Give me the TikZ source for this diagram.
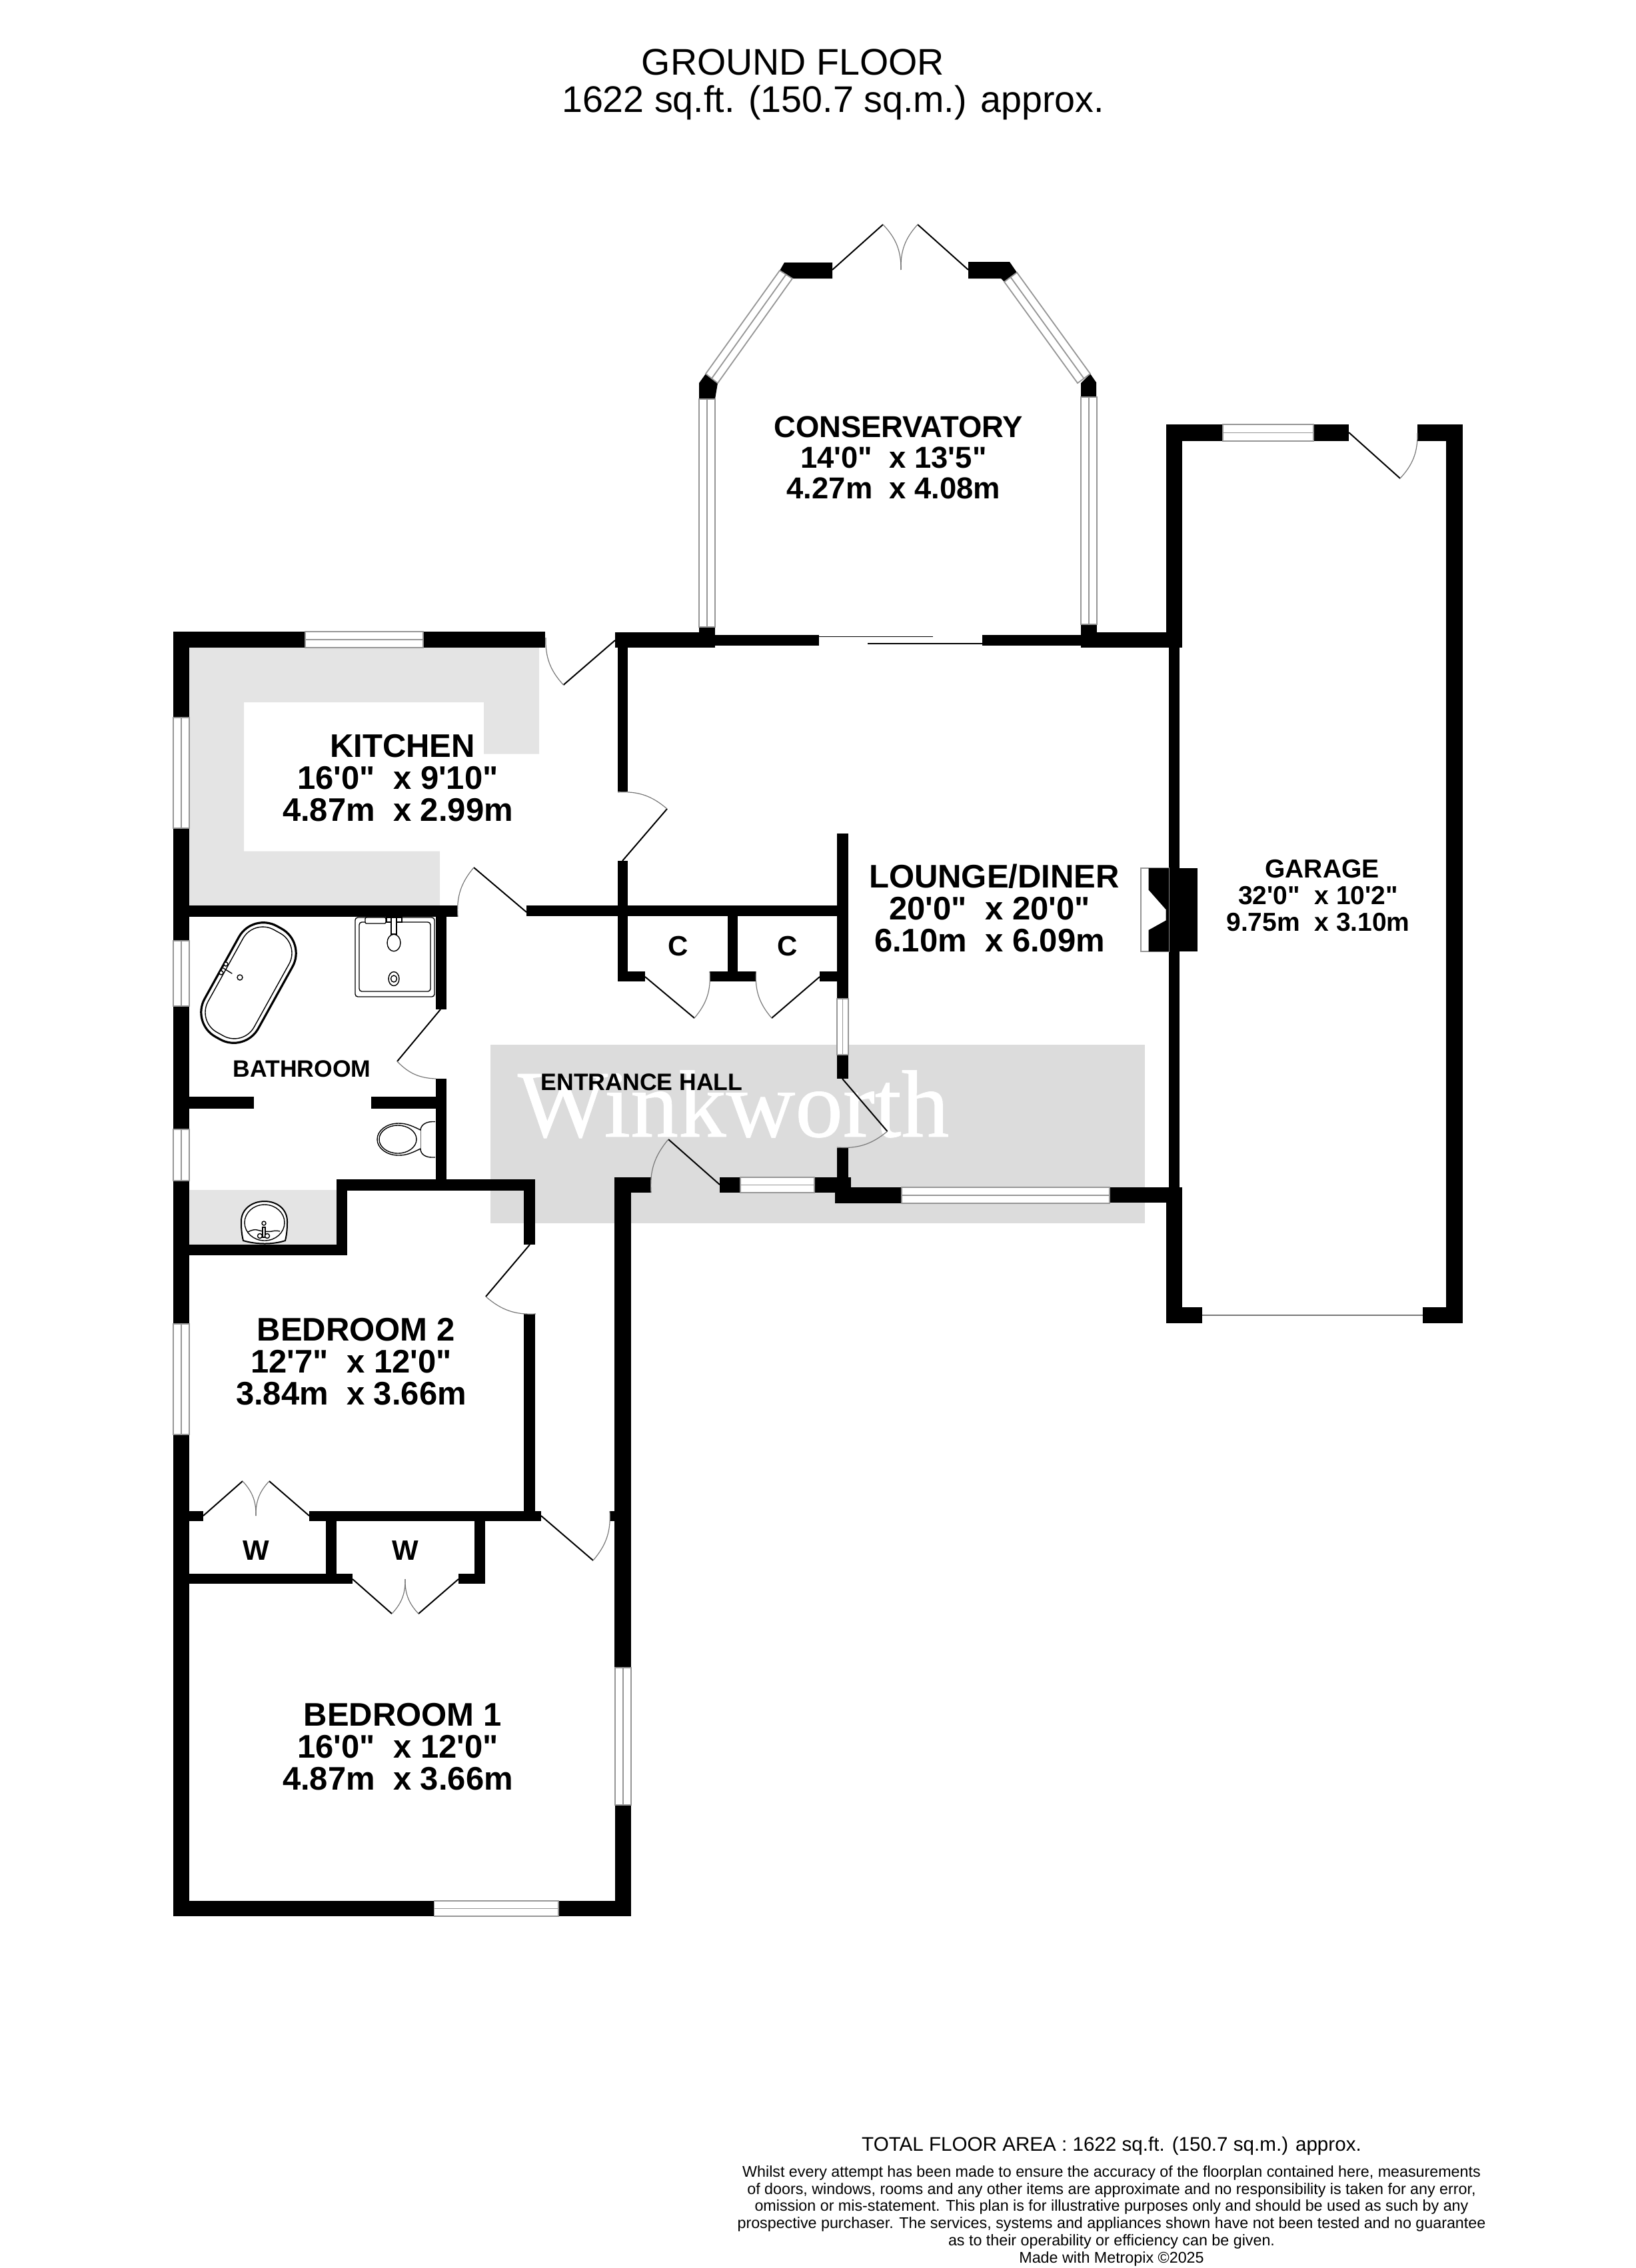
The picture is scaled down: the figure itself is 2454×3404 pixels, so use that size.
\documentclass[tikz,border=0pt]{standalone}
\usepackage{fontspec}
\usepackage{xcolor}
\newfontfamily\PlanFont{Liberation Sans}
\newfontfamily\BrandFont[FakeBold=.6]{Liberation Serif}
\definecolor{ColCounter}{RGB}{228,228,228}
\definecolor{ColBrand}{RGB}{220,220,220}
\definecolor{ColFrame}{RGB}{150,150,150}
\definecolor{ColSwing}{RGB}{120,120,120}
\tikzstyle{WallFill}=[fill=black,draw=none]
\tikzstyle{CounterFill}=[fill=ColCounter,draw=none]
\tikzstyle{WindowPane}=[draw=ColFrame,fill=white,line width=.45pt]
\tikzstyle{DoorLeaf}=[black,line width=.5pt]
\tikzstyle{DoorSwing}=[ColSwing,line width=.3pt,bend left=22]
\tikzstyle{SlideLine}=[black,line width=.35pt]
\tikzstyle{FixtureThin}=[black,line width=.35pt,fill=white]
\tikzstyle{FixtureHeavy}=[black,line width=.8pt,fill=white]
\tikzstyle{RoomName}=[font=\PlanFont\bfseries\fontsize{12.25}{12}\selectfont,align=center,anchor=base,inner sep=0pt]
\tikzstyle{RoomNameConserv}=[font=\PlanFont\bfseries\fontsize{11.35}{11.4}\selectfont,align=center,anchor=base,inner sep=0pt]
\tikzstyle{RoomNameGarage}=[font=\PlanFont\bfseries\fontsize{9.75}{10}\selectfont,align=center,anchor=base,inner sep=0pt]
\tikzstyle{RoomNameSmall}=[font=\PlanFont\bfseries\fontsize{8.9}{10}\selectfont,anchor=base,inner sep=0pt]
\tikzstyle{CupboardName}=[font=\PlanFont\bfseries\fontsize{10.5}{12}\selectfont,anchor=base,inner sep=0pt]
\tikzstyle{HeadText}=[font=\PlanFont\fontsize{13.9}{14}\selectfont,align=center,anchor=base,inner sep=0pt]
\tikzstyle{TotalText}=[font=\PlanFont\fontsize{7.4}{8}\selectfont,anchor=base,inner sep=0pt]
\tikzstyle{SmallPrint}=[font=\PlanFont\fontsize{5.82}{6.43}\selectfont,align=center,anchor=base,inner sep=0pt]
\begin{document}
\begin{tikzpicture}[x=.25pt,y=-.25pt]
        \useasboundingbox(0,0)rectangle(2454,3404);
        \fill[CounterFill](284,972)--(809,972)--(809,1131.5)--(726,1131.5)--(726,1054)--(366,1054)--(366,1277.5)--(660,1277.5)--(660,1359)--(284,1359)--cycle;
        \fill[CounterFill](284,1786)rectangle(505,1868);
        \fill[ColBrand](736,1568)rectangle(1718,1836);
        \node[font=\BrandFont\fontsize{35.85}{36}\selectfont,white,anchor=base west,inner sep=0pt](brand)at(776,1706){Winkworth};
        \fill[WallFill](260,948)rectangle(458,972);
        \fill[WallFill](635,948)rectangle(818,972);
        \fill[WallFill](260,948)rectangle(284,1077);
        \fill[WallFill](260,1243)rectangle(284,1412);
        \fill[WallFill](260,1510)rectangle(284,1695);
        \fill[WallFill](260,1772)rectangle(284,1987);
        \fill[WallFill](260,2153)rectangle(284,2876);
        \fill[WallFill](260,1359)rectangle(687,1376);
        \fill[WallFill](790,1359)rectangle(1273,1375);
        \fill[WallFill](923,949)rectangle(1072,972);
        \fill[WallFill](1072,953)rectangle(1229,969);
        \fill[WallFill](1474,953)rectangle(1622,969);
        \fill[WallFill](1622,949)rectangle(1774,972);
        \fill[WallFill](927,972)rectangle(942,1188);
        \fill[WallFill](927,1292)rectangle(942,1473);
        \fill[WallFill](927,1458)rectangle(968,1473);
        \fill[WallFill](1092,1375)rectangle(1107,1458);
        \fill[WallFill](1065,1458)rectangle(1134,1473);
        \fill[WallFill](1230,1458)rectangle(1273,1473);
        \fill[WallFill](1256,1251)rectangle(1273,1499);
        \fill[WallFill](1256,1583)rectangle(1273,1619);
        \fill[WallFill](1256,1723)rectangle(1273,1790);
        \fill[WallFill](922,1767)rectangle(977,1790);
        \fill[WallFill](922,1767)rectangle(947,2503);
        \fill[WallFill](923,2709)rectangle(947,2876);
        \fill[WallFill](915,2268)rectangle(947,2283);
        \fill[WallFill](1080,1767)rectangle(1111,1790);
        \fill[WallFill](1222,1767)rectangle(1277,1790);
        \fill[WallFill](1253,1782)rectangle(1353,1806);
        \fill[WallFill](1665,1782)rectangle(1774,1805);
        \fill[WallFill](1750,637)rectangle(1835,662);
        \fill[WallFill](1971,637)rectangle(2024,662);
        \fill[WallFill](2127,637)rectangle(2195,662);
        \fill[WallFill](1750,637)rectangle(1774,972);
        \fill[WallFill](1754,972)rectangle(1770,1793);
        \fill[WallFill](1750,1793)rectangle(1774,1986);
        \fill[WallFill](1750,1962)rectangle(1804,1986);
        \fill[WallFill](2135,1962)rectangle(2195,1986);
        \fill[WallFill](2170,637)rectangle(2195,1986);
        \fill[WallFill](654,1376)rectangle(669.5,1515);
        \fill[WallFill](654,1619)rectangle(669.5,1786);
        \fill[WallFill](284,1646)rectangle(381,1664);
        \fill[WallFill](557,1646)rectangle(654,1664);
        \fill[WallFill](505,1770)rectangle(803,1786.5);
        \fill[WallFill](505,1770)rectangle(520.5,1884);
        \fill[WallFill](260,1868)rectangle(520.5,1884);
        \fill[WallFill](786,1770)rectangle(803,1868);
        \fill[WallFill](786,1972)rectangle(803,2283);
        \fill[WallFill](284,2268)rectangle(305,2283);
        \fill[WallFill](464,2268)rectangle(812,2283);
        \fill[WallFill](489,2283)rectangle(505,2377);
        \fill[WallFill](260,2362)rectangle(529,2377);
        \fill[WallFill](712,2268)rectangle(728,2377);
        \fill[WallFill](688,2362)rectangle(728,2377);
        \fill[WallFill](260,2853)rectangle(651.5,2876);
        \fill[WallFill](838,2853)rectangle(947,2876);
        \fill[WallFill](1049,941)rectangle(1073,972);
        \fill[WallFill](1622,937)rectangle(1646,972);
        \fill[WallFill](1059,561)--(1049,575)--(1049,599)--(1073,599)--(1077,575)--cycle;
        \fill[WallFill](1177,394)--(1249,394)--(1249,418)--(1189,418)--(1169,408)--cycle;
        \fill[WallFill](1453,393)--(1515,393)--(1526,409)--(1507,423)--(1502,418)--(1453,418)--cycle;
        \fill[WallFill](1636,561)--(1645,574)--(1645,596)--(1622,596)--(1622,575)--cycle;
        \fill[WallFill](1770,1303)rectangle(1797,1428);
        \draw[ColFrame,fill=white,line width=.3pt](1712,1303)rectangle(1754,1428);
        \fill[WallFill](1723.5,1303)--(1754,1303)--(1754,1428)--(1723.5,1428)--(1723.5,1396)--(1749.5,1381.5)--(1749.5,1365)--(1723.5,1335.5)--cycle;
        \draw[WindowPane](458,948)rectangle(635,972)(458,960)--(635,960);
        \draw[WindowPane](1835,637)rectangle(1971,662)(1835,649.5)--(1971,649.5);
        \draw[WindowPane](1111,1767)rectangle(1222,1790)(1111,1778.5)--(1222,1778.5);
        \draw[WindowPane](1353,1782)rectangle(1665,1806)(1353,1794)--(1665,1794);
        \draw[WindowPane](651.5,2853)rectangle(838,2876)(651.5,2864.5)--(838,2864.5);
        \draw[WindowPane](260,1077)rectangle(284,1243)(272,1077)--(272,1243);
        \draw[WindowPane](260,1412)rectangle(284,1510)(272,1412)--(272,1510);
        \draw[WindowPane](260,1695)rectangle(284,1772)(272,1695)--(272,1772);
        \draw[WindowPane](260,1987)rectangle(284,2153)(272,1987)--(272,2153);
        \draw[WindowPane](923,2503)rectangle(947,2709)(935,2503)--(935,2709);
        \draw[WindowPane](1256,1499)rectangle(1273,1583)(1264.5,1499)--(1264.5,1583);
        \draw[WindowPane](1049,599)rectangle(1073,941)(1061,599)--(1061,941);
        \draw[WindowPane](1622,596)rectangle(1646,937)(1634,596)--(1634,937);
        \draw[WindowPane](1059,561)--(1170,406)--(1189,418)--(1077,575)--cycle(1068,568)--(1179.5,412);
        \draw[WindowPane](1526,409)--(1636,561)--(1617,575)--(1507,423)--cycle(1516.5,416)--(1626.5,568);
        \draw[SlideLine](1229,955.5)--(1400,955.5);
        \draw[SlideLine](1302,966)--(1474,966);
        \draw[ColSwing,line width=.5pt](1804,1974)--(2135,1974);
        \draw[DoorLeaf](923,961)--(845.5,1028);
        \draw[DoorSwing](845.5,1028)to(819,957);
        \draw[DoorLeaf](934,1292)--(1001,1214);
        \draw[DoorSwing](927,1189)to(1001,1214);
        \draw[DoorLeaf](790,1369)--(711,1302);
        \draw[DoorSwing](687,1376)to(711,1302);
        \draw[DoorLeaf](661,1515)--(596,1593);
        \draw[DoorSwing](654,1619)to(596,1593);
        \draw[DoorLeaf](968,1466)--(1042,1528);
        \draw[DoorSwing](1065,1458)to(1042,1528);
        \draw[DoorLeaf](1230,1466)--(1158,1528);
        \draw[DoorSwing](1158,1528)to(1134.5,1458);
        \draw[DoorLeaf](1264,1619)--(1331.5,1698);
        \draw[DoorSwing](1331.5,1698)to(1256,1722);
        \draw[DoorLeaf](1080,1778)--(1003,1710);
        \draw[DoorSwing](977,1790)to(1003,1710);
        \draw[DoorLeaf](795,1868)--(729,1946);
        \draw[DoorSwing](804,1972)to(729,1946);
        \draw[DoorLeaf](812,2275)--(890,2342);
        \draw[DoorSwing](915,2268)to(890,2342);
        \draw[DoorLeaf](2024,649)--(2101,718);
        \draw[DoorSwing](2127,650)to(2101,718);
        \draw[DoorLeaf](1249,405)--(1325,337);
        \draw[DoorSwing](1325,337)to(1352,405);
        \draw[DoorLeaf](1453,405)--(1377,337);
        \draw[DoorSwing](1352,405)to(1377,337);
        \draw[DoorLeaf](305,2275)--(364,2223);
        \draw[DoorSwing](364,2223)to(384,2275);
        \draw[DoorLeaf](464,2275)--(404,2223);
        \draw[DoorSwing](384,2275)to(404,2223);
        \draw[DoorLeaf](529,2370)--(588,2422);
        \draw[DoorSwing](608,2370)to(588,2422);
        \draw[DoorLeaf](688,2370)--(628,2422);
        \draw[DoorSwing](628,2422)to(608,2370);
        \draw[FixtureHeavy,shift={(373,1475)},rotate=61,rounded corners=10.5pt](-95,-46)rectangle(95,46);
        \draw[FixtureThin,shift={(373,1475)},rotate=61,rounded corners=8.5pt](-88,-39.5)rectangle(88,39.5);
        \draw[FixtureThin](339,1447)circle(3);
        \draw[FixtureThin](332,1460)circle(3);
        \draw[FixtureThin,line cap=round](335,1453)--(348,1461);
        \draw[FixtureThin](360,1467)circle(4);
        \draw[FixtureThin,rounded corners=1pt](533,1377)rectangle(652,1496);
        \draw[FixtureThin,rounded corners=1pt](539,1384)rectangle(646,1488);
        \draw[FixtureThin,rounded corners=.5pt](548,1377)rectangle(579,1386);
        \draw[FixtureThin](580,1377)rectangle(603,1384);
        \draw[FixtureThin](587,1377)rectangle(595,1402);
        \draw[FixtureThin](591,1415)ellipse(10 and 12.7);
        \draw[FixtureThin](591,1469)ellipse(8 and 10.5);
        \draw[FixtureThin](591,1469)ellipse(4.5 and 5);
        \draw[FixtureThin](653,1683.5)--(648,1683.5)..controls(638,1684)and(631,1689)..(631,1697)--(631,1724)..controls(631,1732)and(638,1737)..(648,1737)--(653,1737);
        \draw[FixtureThin](631,1696)..controls(615,1688)and(608,1686)..(598,1686)..controls(580,1686)and(566,1697)..(566,1710)..controls(566,1723)and(580,1734)..(598,1734)..controls(608,1734)and(615,1732)..(631,1724);
        \draw[FixtureThin](597,1710)ellipse(28 and 21);
        \draw[FixtureThin,line width=.5pt,fill=white](365,1862)..controls(362,1850)and(362,1840)..(362,1833)..controls(362,1815)and(378,1803)..(397,1803)..controls(416,1803)and(431,1815)..(431,1833)..controls(431,1840)and(431,1850)..(428,1862)..controls(410,1868)and(385,1868)..(365,1862)--cycle;
        \draw[FixtureThin](397,1835)ellipse(30 and 27);
        \draw[FixtureThin](372,1849)..controls(378,1846)and(382,1845)..(386,1846)..controls(392,1848)and(402,1849)..(408,1848)..controls(412,1847)and(416,1847)..(420,1848);
        \draw[FixtureThin](396,1836)circle(3);
        \draw[FixtureThin](394,1842)rectangle(398,1857);
        \draw[FixtureThin](390,1855)circle(3.5);
        \draw[FixtureThin](401,1855)circle(3.5);
        \node[HeadText](ground)at(1250,169){GROUND FLOOR\hspace*{30pt}\\1622 sq.ft. (150.7 sq.m.) approx.};
        \node[RoomNameConserv](conservatory)at(1341,748){\hspace*{3.5pt}CONSERVATORY\\14'0"\ \ x 13'5"\\4.27m\ \ x 4.08m};
        \node[RoomName](kitchen)at(597,1232){\hspace*{3.5pt}KITCHEN\\16'0"\ \ x 9'10"\\4.87m\ \ x 2.99m};
        \node[RoomName](lounge)at(1485,1428){\hspace*{3.5pt}LOUNGE/DINER\\20'0"\ \ x 20'0"\\6.10m\ \ x 6.09m};
        \node[RoomNameGarage](garage)at(1978,1397){\hspace*{3pt}GARAGE\\32'0"\ \ x 10'2"\\9.75m\ \ x 3.10m};
        \node[RoomName](bedtwo)at(527,2108){\hspace*{3.5pt}BEDROOM 2\\12'7"\ \ x 12'0"\\3.84m\ \ x 3.66m};
        \node[RoomName](bedone)at(597,2686){\hspace*{3.5pt}BEDROOM 1\\16'0"\ \ x 12'0"\\4.87m\ \ x 3.66m};
        \node[RoomNameSmall](bathroom)at(453,1616){BATHROOM};
        \node[RoomNameSmall](hall)at(963,1636.5){ENTRANCE HALL};
        \node[CupboardName](cupa)at(1017.5,1434){C};
        \node[CupboardName](cupb)at(1182,1434){C};
        \node[CupboardName](warda)at(384,2341.5){W};
        \node[CupboardName](wardb)at(608,2341.5){W};
        \node[TotalText](total)at(1668,3228){TOTAL FLOOR AREA : 1622 sq.ft. (150.7 sq.m.) approx.};
        \node[SmallPrint](notice)at(1668,3396){Whilst every attempt has been made to ensure the accuracy of the floorplan contained here, measurements\\of doors, windows, rooms and any other items are approximate and no responsibility is taken for any error,\\omission or mis-statement. This plan is for illustrative purposes only and should be used as such by any\\prospective purchaser. The services, systems and appliances shown have not been tested and no guarantee\\as to their operability or efficiency can be given.\\Made with Metropix \textcopyright 2025};
\end{tikzpicture}
\end{document}
